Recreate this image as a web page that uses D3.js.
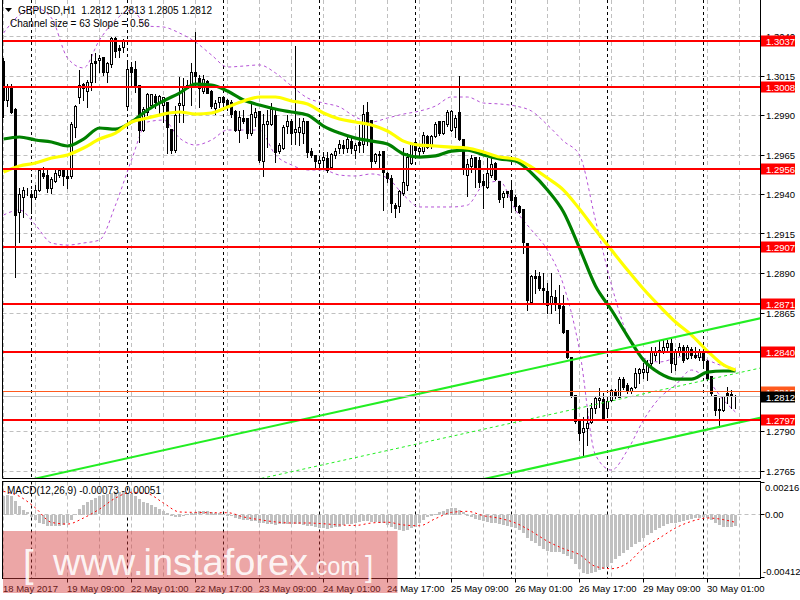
<!DOCTYPE html>
<html><head><meta charset="utf-8">
<script src="https://cdn.jsdelivr.net/npm/d3@7"></script>
<style>
body{margin:0;background:#fff}
svg{display:block}
text{font-family:"Liberation Sans",Arial,sans-serif}
</style>
</head><body>
<svg id="c" width="800" height="600"></svg>
<script>
// ---------------- DATA ----------------
const symbol = "GBPUSD,H1";
const openP = [1.30239,1.29998,1.30080,1.29935,1.29283,1.29378,1.29422,1.29397,1.29378,1.29428,
1.29536,1.29523,1.29435,1.29485,1.29523,1.29549,1.29511,1.29511,1.29821,1.30011,
1.30099,1.30049,1.30112,1.30239,1.30245,1.30270,1.30175,1.30220,1.30390,1.30327,
1.30333,1.29954,1.30201,1.30188,1.30087,1.29808,1.29922,1.29966,1.30023,1.29985,
1.29966,1.29985,1.29814,1.29681,1.29966,1.29966,1.30074,1.30093,1.30169,1.30137,
1.30049,1.30118,1.30055,1.29947,1.29985,1.30011,1.29998,1.29985,1.29928,1.29802,
1.29884,1.29878,1.29783,1.29890,1.29928,1.29612,1.29840,1.29840,1.29903,1.29669,
1.29694,1.29833,1.29859,1.29795,1.29795,1.29789,1.29859,1.29675,1.29644,1.29599,
1.29618,1.29625,1.29568,1.29644,1.29694,1.29707,1.29688,1.29738,1.29681,1.29726,
1.29719,1.29916,1.29871,1.29606,1.29650,1.29669,1.29536,1.29504,1.29333,1.29321,
1.29409,1.29460,1.29599,1.29726,1.29669,1.29669,1.29770,1.29713,1.29770,1.29859,
1.29789,1.29840,1.29808,1.29821,1.29916,1.29751,1.29523,1.29580,1.29637,1.29618,
1.29485,1.29447,1.29523,1.29599,1.29485,1.29378,1.29416,1.29428,1.29384,1.29327,
1.29308,1.29093,1.28719,1.28884,1.28878,1.28802,1.28783,1.28713,1.28751,1.28713,
1.28694,1.28542,1.28371,1.28131,1.27966,1.27896,1.27922,1.27960,1.28048,1.28099,
1.28105,1.28048,1.28099,1.28156,1.28118,1.28226,1.28194,1.28150,1.28181,1.28270,
1.28276,1.28276,1.28333,1.28384,1.28397,1.28403,1.28434,1.28460,1.28321,1.28403,
1.28434,1.28365,1.28422,1.28384,1.28371,1.28403,1.28346,1.28245,1.28131,1.28036,
1.28036,1.28143,1.28137,1.28120];
const highP = [1.30264,1.30099,1.30099,1.29947,1.29441,1.29447,1.29441,1.29428,1.29460,1.29568,
1.29574,1.29568,1.29511,1.29568,1.29568,1.29568,1.29568,1.29859,1.29966,1.30188,
1.30106,1.30125,1.30289,1.30296,1.30283,1.30270,1.30239,1.30397,1.30397,1.30346,
1.30384,1.30239,1.30239,1.30245,1.30087,1.29954,1.30042,1.30036,1.30036,1.30030,
1.30017,1.29985,1.29814,1.29960,1.30144,1.30137,1.30125,1.30232,1.30428,1.30156,
1.30156,1.30125,1.30061,1.29998,1.30017,1.30017,1.30004,1.29998,1.29935,1.29928,
1.29935,1.29884,1.29973,1.29947,1.29928,1.29909,1.29935,1.29979,1.29947,1.29726,
1.29840,1.29903,1.29878,1.30340,1.29884,1.29884,1.29859,1.29694,1.29650,1.29637,
1.29669,1.29669,1.29663,1.29694,1.29745,1.29745,1.29776,1.29764,1.29726,1.29840,
1.29966,1.29985,1.29871,1.29663,1.29675,1.29669,1.29542,1.29523,1.29346,1.29428,
1.29694,1.29663,1.29726,1.29757,1.29713,1.29795,1.29776,1.29776,1.29859,1.29859,
1.29859,1.29935,1.29935,1.29903,1.30150,1.29751,1.29625,1.29650,1.29637,1.29637,
1.29530,1.29631,1.29631,1.29606,1.29485,1.29422,1.29422,1.29473,1.29397,1.29333,
1.29308,1.29093,1.28890,1.28922,1.28909,1.28903,1.28840,1.28903,1.28795,1.28827,
1.28764,1.28542,1.28371,1.28131,1.27966,1.27991,1.28048,1.28080,1.28124,1.28175,
1.28143,1.28112,1.28169,1.28169,1.28245,1.28245,1.28207,1.28181,1.28302,1.28302,
1.28333,1.28352,1.28434,1.28434,1.28479,1.28485,1.28479,1.28491,1.28422,1.28460,
1.28447,1.28447,1.28434,1.28434,1.28422,1.28415,1.28352,1.28245,1.28131,1.28112,
1.28124,1.28181,1.28162,1.28130];
const lowP = [1.29890,1.29960,1.29916,1.28878,1.29099,1.29257,1.29397,1.29283,1.29371,1.29422,
1.29504,1.29416,1.29409,1.29479,1.29511,1.29460,1.29441,1.29504,1.29764,1.29979,
1.29998,1.29954,1.30061,1.30112,1.30175,1.30156,1.30112,1.30207,1.30270,1.30270,
1.30302,1.29954,1.30080,1.30049,1.29732,1.29802,1.29903,1.29960,1.29947,1.29903,
1.29859,1.29663,1.29663,1.29669,1.29859,1.29859,1.30074,1.29966,1.30080,1.29954,
1.30042,1.30042,1.29947,1.29909,1.29954,1.29954,1.29935,1.29890,1.29802,1.29732,
1.29852,1.29757,1.29776,1.29833,1.29606,1.29517,1.29700,1.29840,1.29606,1.29663,
1.29688,1.29789,1.29719,1.29719,1.29713,1.29726,1.29637,1.29637,1.29568,1.29568,
1.29568,1.29542,1.29561,1.29631,1.29663,1.29663,1.29669,1.29663,1.29631,1.29669,
1.29669,1.29713,1.29568,1.29599,1.29574,1.29302,1.29479,1.29289,1.29257,1.29289,
1.29397,1.29428,1.29593,1.29637,1.29650,1.29663,1.29694,1.29694,1.29764,1.29776,
1.29783,1.29833,1.29802,1.29764,1.29745,1.29530,1.29390,1.29542,1.29447,1.29447,
1.29314,1.29441,1.29511,1.29492,1.29352,1.29321,1.29384,1.29289,1.29302,1.29283,
1.29030,1.28669,1.28719,1.28776,1.28795,1.28713,1.28650,1.28650,1.28669,1.28586,
1.28523,1.28365,1.28118,1.27953,1.27846,1.27738,1.27814,1.27953,1.28017,1.28055,
1.27985,1.27991,1.28093,1.28112,1.28118,1.28169,1.28143,1.28143,1.28175,1.28207,
1.28238,1.28226,1.28321,1.28352,1.28333,1.28397,1.28415,1.28276,1.28289,1.28384,
1.28340,1.28359,1.28365,1.28365,1.28352,1.28308,1.28226,1.28131,1.28004,1.27928,
1.28029,1.28080,1.28048,1.28050];
const closeP = [1.29998,1.30080,1.29922,1.29270,1.29397,1.29428,1.29416,1.29378,1.29428,1.29549,
1.29511,1.29441,1.29498,1.29536,1.29555,1.29517,1.29504,1.29840,1.29954,1.30093,
1.30074,1.30106,1.30226,1.30232,1.30258,1.30169,1.30226,1.30390,1.30302,1.30314,
1.30371,1.30188,1.30175,1.30080,1.29802,1.29935,1.30036,1.30036,1.29985,1.30023,
1.30017,1.29827,1.29681,1.29903,1.29979,1.30080,1.30093,1.30175,1.30144,1.30074,
1.30125,1.30042,1.29954,1.29979,1.30011,1.29985,1.29966,1.29909,1.29808,1.29890,
1.29859,1.29789,1.29909,1.29916,1.29618,1.29846,1.29859,1.29935,1.29663,1.29707,
1.29827,1.29865,1.29789,1.29814,1.29827,1.29859,1.29663,1.29650,1.29606,1.29618,
1.29637,1.29549,1.29656,1.29675,1.29719,1.29694,1.29745,1.29694,1.29707,1.29713,
1.29909,1.29840,1.29606,1.29656,1.29656,1.29542,1.29504,1.29346,1.29314,1.29416,
1.29479,1.29637,1.29719,1.29681,1.29694,1.29776,1.29700,1.29770,1.29846,1.29789,
1.29859,1.29916,1.29928,1.29878,1.29751,1.29568,1.29593,1.29625,1.29568,1.29473,
1.29460,1.29536,1.29587,1.29498,1.29371,1.29409,1.29409,1.29365,1.29321,1.29289,
1.29099,1.28732,1.28884,1.28871,1.28802,1.28795,1.28700,1.28757,1.28713,1.28681,
1.28529,1.28371,1.28124,1.27966,1.27890,1.27922,1.27953,1.28048,1.28112,1.28112,
1.27985,1.28093,1.28162,1.28124,1.28232,1.28181,1.28156,1.28175,1.28264,1.28295,
1.28295,1.28321,1.28397,1.28397,1.28415,1.28434,1.28460,1.28333,1.28397,1.28434,
1.28352,1.28434,1.28384,1.28371,1.28403,1.28352,1.28238,1.28143,1.28036,1.28042,
1.28124,1.28124,1.28124,1.28120];

// indicator readings at every 4th bar (bar index -> value)
const maIdx = [0,4,8,12,16,20,24,28,32,36,40,44,48,52,56,60,64,68,72,76,80,84,88,92,96,
100,104,108,112,116,120,124,128,132,136,140,144,148,152,156,160,164,168,172,176,180,183];
const maGreen = [1.29751,1.29764,1.29745,1.29732,1.29707,1.29751,1.29821,1.29814,1.29859,1.29935,
1.29992,1.30042,1.30099,1.30093,1.30055,1.29998,1.29966,1.29941,1.29922,1.29903,
1.29833,1.29789,1.29757,1.29738,1.29719,1.29656,1.29637,1.29644,1.29675,1.29681,
1.29650,1.29625,1.29612,1.29536,1.29428,1.29289,1.29061,1.28821,1.28669,1.28504,
1.28352,1.28270,1.28232,1.28232,1.28276,1.28283,1.28283];
const maYellow = [1.29542,1.29580,1.29599,1.29631,1.29650,1.29694,1.29751,1.29789,1.29859,1.29884,
1.29909,1.29922,1.29909,1.29916,1.29954,1.29992,1.30017,1.30017,1.29992,1.29973,
1.29916,1.29878,1.29859,1.29840,1.29802,1.29738,1.29713,1.29707,1.29700,1.29694,
1.29669,1.29637,1.29625,1.29574,1.29504,1.29428,1.29308,1.29175,1.29048,1.28922,
1.28802,1.28694,1.28593,1.28510,1.28409,1.28321,1.28289];
const bandUpper = [1.30422,1.30536,1.30580,1.30517,1.30264,1.30201,1.30378,1.30504,1.30568,1.30466,
1.30460,1.30422,1.30365,1.30283,1.30207,1.30213,1.30220,1.30169,1.30087,1.30011,
1.29979,1.29954,1.29890,1.29859,1.29884,1.29909,1.29928,1.29960,1.30017,1.30017,
1.29979,1.29973,1.29960,1.29928,1.29840,1.29738,1.29650,1.29238,1.28827,1.28510,
1.28365,1.28340,1.28365,1.28390,1.28352,1.28314,1.28302];
const bandLower = [1.29270,1.29302,1.29207,1.29093,1.29080,1.29093,1.29112,1.29333,1.29618,1.29859,
1.29871,1.29757,1.29713,1.29745,1.29808,1.29808,1.29808,1.29650,1.29587,1.29555,
1.29555,1.29523,1.29517,1.29530,1.29504,1.29397,1.29321,1.29321,1.29321,1.29333,
1.29460,1.29485,1.29302,1.29175,1.29048,1.28827,1.28415,1.27751,1.27656,1.27782,
1.27972,1.28112,1.28194,1.28289,1.28226,1.28099,1.28023];
const macdMain = [0.00126,0.00132,0.00126,0.00088,0.00055,0.00033,0.00015,-0.00011,-0.00033,-0.00051,
-0.00060,-0.00071,-0.00073,-0.00073,-0.00071,-0.00066,-0.00055,-0.00033,0.00002,0.00037,
0.00066,0.00084,0.00099,0.00110,0.00121,0.00130,0.00137,0.00143,0.00148,0.00150,
0.00148,0.00143,0.00137,0.00126,0.00104,0.00086,0.00077,0.00066,0.00051,0.00037,
0.00024,0.00011,-0.00007,-0.00015,-0.00013,-0.00007,0.00002,0.00011,0.00018,0.00022,
0.00022,0.00022,0.00018,0.00013,0.00011,0.00007,-0.00001,-0.00009,-0.00020,-0.00026,
-0.00031,-0.00035,-0.00037,-0.00042,-0.00051,-0.00055,-0.00057,-0.00060,-0.00064,-0.00062,
-0.00062,-0.00060,-0.00060,-0.00060,-0.00062,-0.00066,-0.00071,-0.00073,-0.00077,-0.00084,
-0.00088,-0.00090,-0.00088,-0.00082,-0.00077,-0.00068,-0.00062,-0.00057,-0.00053,-0.00048,
-0.00042,-0.00042,-0.00046,-0.00048,-0.00053,-0.00055,-0.00066,-0.00082,-0.00095,-0.00101,
-0.00106,-0.00099,-0.00088,-0.00077,-0.00055,-0.00033,-0.00015,-0.00007,0.00007,0.00015,
0.00024,0.00037,0.00046,0.00044,0.00033,0.00015,-0.00001,-0.00011,-0.00024,-0.00033,
-0.00040,-0.00046,-0.00051,-0.00055,-0.00062,-0.00068,-0.00073,-0.00082,-0.00088,-0.00099,
-0.00121,-0.00154,-0.00170,-0.00187,-0.00205,-0.00227,-0.00238,-0.00242,-0.00242,-0.00247,
-0.00258,-0.00271,-0.00293,-0.00324,-0.00359,-0.00381,-0.00390,-0.00386,-0.00375,-0.00364,
-0.00359,-0.00346,-0.00320,-0.00293,-0.00271,-0.00253,-0.00231,-0.00209,-0.00192,-0.00176,
-0.00154,-0.00134,-0.00117,-0.00099,-0.00086,-0.00073,-0.00062,-0.00055,-0.00051,-0.00044,
-0.00037,-0.00031,-0.00026,-0.00022,-0.00018,-0.00015,-0.00022,-0.00033,-0.00051,-0.00066,
-0.00077,-0.00077,-0.00077,-0.00073];
const macdSignal = [0.00154,0.00121,0.00044,-0.00051,-0.00062,-0.00022,0.00037,0.00110,0.00148,0.00139,
0.00077,0.00018,0.00015,0.00013,0.00013,-0.00015,-0.00033,-0.00048,-0.00055,-0.00055,
-0.00060,-0.00068,-0.00071,-0.00055,-0.00050,-0.00068,-0.00073,-0.00026,0.00015,0.00022,
-0.00007,-0.00024,-0.00055,-0.00110,-0.00176,-0.00225,-0.00264,-0.00342,-0.00357,-0.00320,
-0.00220,-0.00154,-0.00088,-0.00044,-0.00022,-0.00033,-0.00051];

const levels = [1.3037,1.3008,1.2956,1.2907,1.2871,1.2840,1.2797];
const askPrice = 1.2815;
const priceTicks = [1.3040,1.3015,1.2990,1.2965,1.2940,1.2915,1.2890,1.2865,1.2840,1.2815,1.2790,1.2765];
const macdTicks = [0.00216,0.00,-0.00412];
const macdTickLabels = ["0.00216","0.00","-0.00412"];
const timeLabelIdx = [0,16,32,48,64,80,96,112,128,144,160,176];
const timeLabels = ["18 May 2017","19 May 09:00","22 May 01:00","22 May 17:00","23 May 09:00","24 May 01:00",
"24 May 17:00","25 May 09:00","26 May 01:00","26 May 17:00","29 May 09:00","30 May 01:00"];
const daySepIdx = [7,31,55,79,103,127,151,175];
const channelSize = 0.0063;     // full width (63 pips)
const channelSlope = 0.000056;  // per bar (0.56 pips)
const channelMidLast = 1.28267; // middle line at last bar

// ---------------- LAYOUT ----------------
const svg = d3.select("#c");
const N = openP.length;
const PL = 2.5, PR = 760.5, PB = 478.5, MT = 481.5, MB = 578.5;
const x = d3.scaleLinear().domain([0, N - 1]).range([3.5, 3.5 + 4 * (N - 1)]);
const y = d3.scaleLinear().domain([1.2765, 1.3015]).range([471, 76]);
const ym = d3.scaleLinear().domain([-0.00412, 0.00216]).range([577, 482]);
const cr = v => Math.round(v - 0.5) + 0.5;

const defs = svg.append("defs");
defs.append("clipPath").attr("id", "cm").append("rect")
  .attr("x", PL).attr("y", 0).attr("width", PR - PL).attr("height", PB);
defs.append("clipPath").attr("id", "cd").append("rect")
  .attr("x", PL).attr("y", MT).attr("width", PR - PL).attr("height", MB - MT);

const gm = svg.append("g").attr("clip-path", "url(#cm)");
const gd = svg.append("g").attr("clip-path", "url(#cd)");

// grid
const vGrid = d3.range(0, N + 8, 8).filter(i => x(i) < PR);
const gridStyle = s => s.attr("stroke", "#c0c0c0").attr("stroke-width", 1).attr("stroke-dasharray", "4,3");
gm.selectAll(".vg").data(vGrid).join("line").call(gridStyle)
  .attr("x1", d => x(d)).attr("x2", d => x(d)).attr("y1", 0).attr("y2", PB);
gm.selectAll(".hg").data(priceTicks).join("line").call(gridStyle)
  .attr("x1", PL).attr("x2", PR).attr("y1", d => cr(y(d))).attr("y2", d => cr(y(d)));
gd.selectAll(".vg").data(vGrid).join("line").call(gridStyle)
  .attr("x1", d => x(d)).attr("x2", d => x(d)).attr("y1", MT).attr("y2", MB);
gd.append("line").call(gridStyle).attr("x1", PL).attr("x2", PR)
  .attr("y1", cr(ym(0))).attr("y2", cr(ym(0)));

// day separators
[gm, gd].forEach((g, k) => {
  g.selectAll(".ds").data(daySepIdx).join("line")
    .attr("x1", d => x(d)).attr("x2", d => x(d))
    .attr("y1", k ? MT : 0).attr("y2", k ? MB : PB)
    .attr("stroke", "#000").attr("stroke-width", 1).attr("stroke-dasharray", "3,3");
});

// bollinger bands
const lineIdx = vals => d3.line().x((d, k) => x(maIdx[k])).y(d => y(d)).curve(d3.curveMonotoneX)(vals);
[bandUpper, bandLower].forEach(b => {
  gm.append("path").attr("d", lineIdx(b)).attr("fill", "none")
    .attr("stroke", "#b552d6").attr("stroke-width", 1).attr("stroke-dasharray", "3,3");
});

// candles
const bars = d3.range(N);
gm.selectAll(".wick").data(bars).join("line")
  .attr("x1", i => x(i)).attr("x2", i => x(i))
  .attr("y1", i => Math.round(y(highP[i]))).attr("y2", i => Math.round(y(lowP[i])) + 1)
  .attr("stroke", "#000").attr("stroke-width", 1);
gm.selectAll(".body").data(bars).join("rect")
  .attr("x", i => x(i) - 1).attr("width", 2)
  .attr("y", i => cr(y(Math.max(openP[i], closeP[i]))))
  .attr("height", i => cr(y(Math.min(openP[i], closeP[i]))) - cr(y(Math.max(openP[i], closeP[i]))))
  .attr("fill", i => closeP[i] > openP[i] ? "#fff" : "#000")
  .attr("stroke", "#000").attr("stroke-width", 1);

// moving averages
gm.append("path").attr("d", lineIdx(maGreen)).attr("fill", "none")
  .attr("stroke", "#008000").attr("stroke-width", 3.2);
gm.append("path").attr("d", lineIdx(maYellow)).attr("fill", "none")
  .attr("stroke", "#ffff00").attr("stroke-width", 3.2);

// regression channel
const chan = off => [0, N + 8].map(i => [x(i), y(channelMidLast - channelSlope * (N - 1 - i) + off)]);
const ln = d3.line();
gm.append("path").attr("d", ln(chan(channelSize / 2))).attr("stroke", "#22ee22").attr("stroke-width", 2).attr("fill", "none");
gm.append("path").attr("d", ln(chan(-channelSize / 2))).attr("stroke", "#22ee22").attr("stroke-width", 2).attr("fill", "none");
gm.append("path").attr("d", ln(chan(0))).attr("stroke", "#22ee22").attr("stroke-width", 1)
  .attr("stroke-dasharray", "3,3").attr("fill", "none");

// horizontal levels
gm.selectAll(".lvl").data(levels).join("line")
  .attr("x1", PL).attr("x2", PR).attr("y1", d => Math.round(y(d))).attr("y2", d => Math.round(y(d)))
  .attr("stroke", "#ff0000").attr("stroke-width", 2);
// price lines
gm.append("line").attr("x1", PL).attr("x2", PR).attr("y1", cr(y(askPrice))).attr("y2", cr(y(askPrice)))
  .attr("stroke", "#ff5a1e").attr("stroke-width", 1);
gm.append("line").attr("x1", PL).attr("x2", PR).attr("y1", cr(y(closeP[N - 1]))).attr("y2", cr(y(closeP[N - 1])))
  .attr("stroke", "#c0c0c0").attr("stroke-width", 1);

// MACD
gd.selectAll(".hist").data(bars).join("rect")
  .attr("x", i => x(i) - 1.5).attr("width", 3)
  .attr("y", i => Math.round(Math.min(ym(0), ym(macdMain[i]))))
  .attr("height", i => Math.max(1, Math.round(Math.abs(ym(macdMain[i]) - ym(0)))))
  .attr("fill", "#c0c0c0");
gd.append("path")
  .attr("d", d3.line().x((d, k) => x(maIdx[k])).y(d => ym(d)).curve(d3.curveMonotoneX)(macdSignal))
  .attr("fill", "none").attr("stroke", "#ff0000").attr("stroke-width", 1).attr("stroke-dasharray", "2,3");

// borders
const bc = "#000";
svg.append("line").attr("x1", PL).attr("x2", PL).attr("y1", 0).attr("y2", PB).attr("stroke", bc);
svg.append("line").attr("x1", PR).attr("x2", PR).attr("y1", 0).attr("y2", PB).attr("stroke", bc);
svg.append("line").attr("x1", PL).attr("x2", PR).attr("y1", PB).attr("y2", PB).attr("stroke", bc);
svg.append("rect").attr("x", PL).attr("y", MT).attr("width", PR - PL).attr("height", MB - MT)
  .attr("fill", "none").attr("stroke", bc);

// price axis (tick labels that sit fully under a tag of the same value are carried by the tag)
const fs = "9.5px";
const tagged = levels.concat([askPrice]).map(v => v.toFixed(4));
svg.selectAll(".pt").data(priceTicks).join("line")
  .attr("x1", PR).attr("x2", PR + 4).attr("y1", d => cr(y(d))).attr("y2", d => cr(y(d))).attr("stroke", "#000");
svg.selectAll(".ptl").data(priceTicks.filter(d => !tagged.includes(d.toFixed(4)))).join("text")
  .attr("x", 766).attr("y", d => y(d) + 3.5).attr("font-size", fs).attr("fill", "#000")
  .text(d => d.toFixed(4));

// label boxes
function tag(price, bg, fg) {
  const yy = Math.round(y(price));
  svg.append("rect").attr("x", 761).attr("y", yy - 5.5).attr("width", 34).attr("height", 11).attr("fill", bg);
  svg.append("text").attr("x", 766).attr("y", yy + 3.5).attr("font-size", fs).attr("fill", fg).text(price.toFixed(4));
}
levels.forEach(l => tag(l, "#ff0000", "#fff"));
tag(askPrice, "#ff5a1e", "#fff");
tag(closeP[N - 1], "#000", "#fff");

// macd axis
svg.selectAll(".mt").data(macdTicks).join("line")
  .attr("x1", PR).attr("x2", PR + 4).attr("y1", d => cr(ym(d))).attr("y2", d => cr(ym(d))).attr("stroke", "#000");
svg.selectAll(".mtl").data(macdTicks).join("text")
  .attr("x", (d, k) => k === 2 ? 763 : 765)
  .attr("y", (d, k) => k === 0 ? 491 : (k === 2 ? 575 : ym(d) + 3.5))
  .attr("font-size", fs).attr("fill", "#000").text((d, k) => macdTickLabels[k]);

// time axis
svg.selectAll(".tt").data(timeLabelIdx.slice(1)).join("line")
  .attr("x1", d => x(d)).attr("x2", d => x(d)).attr("y1", MB).attr("y2", MB + 4).attr("stroke", "#000");
svg.selectAll(".ttl").data(timeLabelIdx).join("text")
  .attr("x", (d, k) => k === 0 ? 3 : x(d) - 0.5).attr("y", 592)
  .attr("font-size", fs).attr("fill", "#000").text((d, k) => timeLabels[k]);

// headers
svg.append("path").attr("d", "M5,8 L12,8 L8.5,12 Z").attr("fill", "#000");
svg.append("text").attr("x", 18).attr("y", 14).attr("font-size", "10px").attr("fill", "#000")
  .style("white-space", "pre")
  .text(`${symbol}  ${openP[N-1].toFixed(4)} ${highP[N-1].toFixed(4)} ${lowP[N-1].toFixed(4)} ${closeP[N-1].toFixed(4)}`);
svg.append("text").attr("x", 10).attr("y", 27).attr("font-size", "10px").attr("fill", "#000")
  .text(`Channel size = ${Math.round(channelSize * 10000)} Slope = ${(channelSlope * 10000).toFixed(2)}`);
svg.append("text").attr("x", 7).attr("y", 494).attr("font-size", "10px").attr("fill", "#000")
  .text(`MACD(12,26,9) ${macdMain[N-1].toFixed(5)} ${macdSignal[macdSignal.length-1].toFixed(5)}`);

// watermark
svg.append("rect").attr("x", 3).attr("y", 531).attr("width", 394.5).attr("height", 62)
  .attr("fill", "rgb(213,57,57)").attr("fill-opacity", 0.45);
const wm = svg.append("g").attr("fill", "#fff").attr("fill-opacity", 0.9);
wm.append("text").attr("x", 23).attr("y", 577).attr("font-size", "38px").text("[");
wm.append("text").attr("x", 53).attr("y", 575).attr("font-size", "37px")
  .attr("textLength", 255).attr("lengthAdjust", "spacingAndGlyphs").text("www.instaforex");
wm.append("text").attr("x", 309).attr("y", 575).attr("font-size", "25px")
  .attr("textLength", 51).attr("lengthAdjust", "spacingAndGlyphs").text(".com");
wm.append("text").attr("x", 365).attr("y", 577).attr("font-size", "30px").text("]");
</script>
</body></html>
